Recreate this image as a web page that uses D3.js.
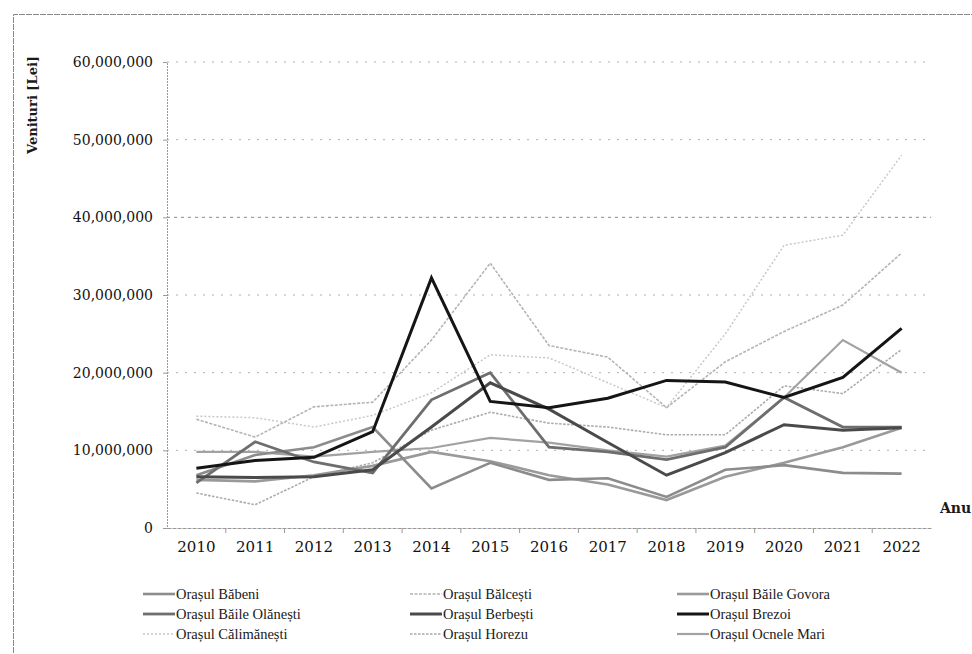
<!DOCTYPE html>
<html>
<head>
<meta charset="utf-8">
<script src="https://cdn.jsdelivr.net/npm/d3@7"></script>
<style>
  html, body { margin: 0; padding: 0; background: #fff; }
  svg { display: block; }
</style>
</head>
<body>
<svg id="chart" width="972" height="654"></svg>
<script>
// ---- data (values in million lei) ----
const years = ["2010","2011","2012","2013","2014","2015","2016","2017","2018","2019","2020","2021","2022"];
const yTicks = [0, 10000000, 20000000, 30000000, 40000000, 50000000, 60000000];

const seriesNames = [
  "Orașul Băbeni", "Orașul Bălcești", "Orașul Băile Govora",
  "Orașul Băile Olănești", "Orașul Berbești", "Orașul Brezoi",
  "Orașul Călimănești", "Orașul Horezu", "Orașul Ocnele Mari"
];

const babeni      = [6.8, 9.4, 10.4, 13.0, 5.1, 8.4, 6.2, 6.4, 4.0, 7.5, 8.1, 7.1, 7.0];
const balcesti    = [14.0, 11.7, 15.6, 16.2, 24.2, 34.1, 23.5, 22.0, 15.5, 21.4, 25.3, 28.7, 35.4];
const baileGovora = [6.2, 6.0, 6.8, 8.0, 9.8, 8.6, 6.8, 5.6, 3.6, 6.6, 8.4, 10.4, 12.9];
const baileOlanesti = [5.8, 11.1, 8.5, 7.1, 16.5, 20.0, 10.4, 9.8, 8.8, 10.4, 16.8, 13.0, 13.0];
const berbesti    = [6.6, 6.5, 6.6, 7.5, 13.0, 18.7, 15.3, 11.0, 6.8, 9.7, 13.3, 12.6, 12.9];
const brezoi      = [7.7, 8.7, 9.1, 12.4, 32.2, 16.3, 15.5, 16.7, 19.0, 18.8, 16.8, 19.4, 25.7];
const calimanesti = [14.4, 14.2, 13.0, 14.5, 17.4, 22.3, 21.9, 18.7, 15.5, 25.0, 36.4, 37.7, 48.0];
const horezu      = [4.5, 3.0, 6.6, 8.4, 12.6, 14.9, 13.5, 13.0, 12.0, 12.0, 18.3, 17.3, 23.0];
const ocneleMari  = [9.8, 9.8, 9.2, 9.8, 10.3, 11.6, 11.0, 10.0, 9.2, 10.6, 16.8, 24.2, 20.0];

const seriesValues = [babeni, balcesti, baileGovora, baileOlanesti, berbesti, brezoi, calimanesti, horezu, ocneleMari];

// ---- styles ----
const styles = [
  { color: "#8c8c8c", width: 2.6, dash: null },      // Băbeni
  { color: "#b4b4b4", width: 1.6, dash: "3,1.5" },   // Bălcești
  { color: "#9a9a9a", width: 2.6, dash: null },      // Băile Govora
  { color: "#6e6e6e", width: 2.8, dash: null },      // Băile Olănești
  { color: "#4a4a4a", width: 3.0, dash: null },      // Berbești
  { color: "#151515", width: 3.0, dash: null },      // Brezoi
  { color: "#c8c8c8", width: 1.5, dash: "2,2" },     // Călimănești
  { color: "#ababab", width: 1.6, dash: "2.5,1.5" }, // Horezu
  { color: "#a2a2a2", width: 2.2, dash: null }       // Ocnele Mari
];

const svg = d3.select("#chart");

// frame
svg.append("path")
  .attr("d", "M13.5,660 L13.5,14.5 L975,14.5")
  .attr("fill", "none")
  .attr("stroke", "#888")
  .attr("stroke-width", 1)
  .attr("stroke-dasharray", "6,1");

const x = d3.scaleBand().domain(years).range([167, 931]).paddingInner(0).paddingOuter(0);
const xc = d => x(d) + x.bandwidth() / 2;
const y = d3.scaleLinear().domain([0, 60000000]).range([528, 62]);

// gridlines
svg.append("g").selectAll("line")
  .data(yTicks.filter(d => d > 0))
  .join("line")
  .attr("x1", 167).attr("x2", 931)
  .attr("y1", d => y(d)).attr("y2", d => y(d))
  .attr("stroke", d => d === 40000000 ? "#8a8a8a" : "#b0b0b0")
  .attr("stroke-width", 1)
  .attr("stroke-dasharray", d => d === 40000000 ? "3,4" : "2,7");

// y axis
const fmt = d => d3.format(",")(d);
const yAxis = svg.append("g")
  .attr("transform", "translate(167,0)")
  .call(d3.axisLeft(y).tickValues(yTicks).tickFormat(fmt).tickSize(4).tickPadding(10));
yAxis.select(".domain").attr("stroke", "#999").attr("stroke-dasharray", "2,1");
yAxis.selectAll(".tick line").attr("stroke", "#999");
yAxis.selectAll("text")
  .attr("font-family", "DejaVu Serif")
  .attr("font-size", 14)
  .attr("fill", "#111");

// x axis
const xAxis = svg.append("g")
  .attr("transform", "translate(0,528)")
  .call(d3.axisBottom(x).tickSize(0).tickPadding(13));
xAxis.select(".domain").attr("stroke", "#999").attr("stroke-dasharray", "4,1");
xAxis.selectAll("text")
  .attr("font-family", "DejaVu Serif")
  .attr("font-size", 15)
  .attr("fill", "#111");
// ticks at band boundaries
xAxis.append("g").selectAll("line")
  .data(years.slice(1))
  .join("line")
  .attr("x1", d => x(d)).attr("x2", d => x(d))
  .attr("y1", 0).attr("y2", 5)
  .attr("stroke", "#999");

// axis titles
svg.append("text")
  .attr("transform", "translate(37,105) rotate(-90)")
  .attr("text-anchor", "middle")
  .attr("font-family", "DejaVu Serif")
  .attr("font-weight", "bold")
  .attr("font-size", 13)
  .attr("fill", "#1a1a1a")
  .text("Venituri [Lei]");

svg.append("text")
  .attr("x", 940).attr("y", 513)
  .attr("font-family", "DejaVu Serif")
  .attr("font-weight", "bold")
  .attr("font-size", 14)
  .attr("fill", "#1a1a1a")
  .text("Anu");

// lines
const line = d3.line()
  .x((d, i) => xc(years[i]))
  .y(d => y(d * 1000000));

const order = [6, 1, 7, 8, 2, 0, 3, 4, 5];
svg.append("g").selectAll("path")
  .data(order)
  .join("path")
  .attr("d", i => line(seriesValues[i]))
  .attr("fill", "none")
  .attr("stroke", i => styles[i].color)
  .attr("stroke-width", i => styles[i].width)
  .attr("stroke-dasharray", i => styles[i].dash)
  .attr("stroke-linejoin", "miter");

// legend
const colX = [143, 410, 677];
const rowY = [594, 614, 634];
const leg = svg.append("g").selectAll("g")
  .data(seriesNames)
  .join("g")
  .attr("transform", (d, i) => `translate(${colX[i % 3]},${rowY[Math.floor(i / 3)]})`);
leg.append("line")
  .attr("x1", 0).attr("x2", 32).attr("y1", 0).attr("y2", 0)
  .attr("stroke", (d, i) => styles[i].color)
  .attr("stroke-width", (d, i) => styles[i].width)
  .attr("stroke-dasharray", (d, i) => styles[i].dash);
leg.append("text")
  .attr("x", 33).attr("y", 5)
  .attr("font-family", "Liberation Serif")
  .attr("font-size", 14.5)
  .attr("fill", "#1a1a1a")
  .text(d => d);
</script>
</body>
</html>
